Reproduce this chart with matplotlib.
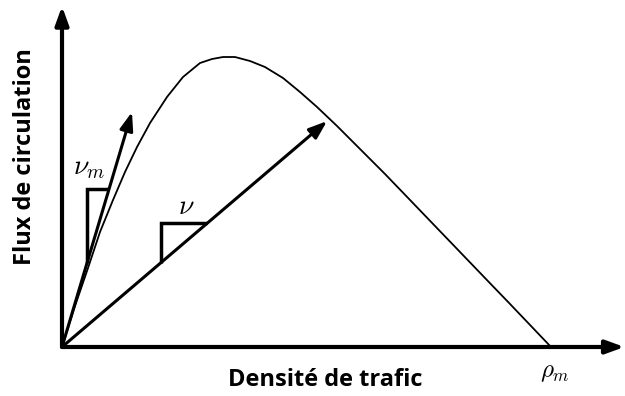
import matplotlib
matplotlib.use("Agg")
import matplotlib.pyplot as plt

# fundamental diagram (density 0..100 = rho_m, flow peak = 100)
density = [0, 2.66, 5.32, 7.77, 10.43, 12.88, 15.34, 18.0, 21.47, 24.74, 28.22,
           30.67, 32.92, 35.38, 38.45, 41.51, 45.19, 48.67, 52.15, 56.24, 60.94,
           66.05, 71.17, 76.28, 81.39, 86.50, 91.62, 100]
flow = [0, 14.14, 27.24, 39.66, 50.69, 60.34, 68.97, 77.24, 86.21, 93.10, 97.93,
        99.31, 100, 100, 98.62, 96.55, 92.76, 87.93, 82.76, 76.21, 68.28,
        59.66, 50.69, 41.72, 32.76, 23.79, 14.83, 0]

# arrow tips (free-flow speed v_m, and a congested speed v)
vm_tip = (14.31, 81.03)
v_tip = (54.2, 77.9)

# slope triangles: x of the vertical leg, y of the horizontal leg
vm_tri = (5.11, 54.48)
v_tri = (20.25, 42.76)

axis_tips = (115.0, 117.5)

plt.rcParams["mathtext.fontset"] = "cm"

fig = plt.figure(figsize=(6.25, 3.96), dpi=100)
ax = fig.add_axes([0, 0, 1, 1])
ax.set_xlim(-12.68, 115.13)
ax.set_ylim(-16.9, 119.66)
ax.axis("off")

arrow_kw = dict(arrowstyle="-|>,head_length=1.1,head_width=0.4", color="black",
                shrinkA=0, shrinkB=0)

# axes
ax.annotate("", xy=(axis_tips[0], 0), xytext=(0, 0),
            arrowprops=dict(arrow_kw, lw=3))
ax.annotate("", xy=(0, axis_tips[1]), xytext=(0, 0),
            arrowprops=dict(arrow_kw, lw=3))

# curve
ax.plot(density, flow, color="black", lw=1.3, solid_joinstyle="round")

# speed arrows
for tip in (vm_tip, v_tip):
    ax.annotate("", xy=tip, xytext=(0, 0), arrowprops=dict(arrow_kw, lw=2.2))

# slope triangles
for tip, (x0, y1) in ((vm_tip, vm_tri), (v_tip, v_tri)):
    s = tip[1] / tip[0]
    ax.plot([x0, x0, y1 / s], [s * x0, y1, y1], color="black", lw=2.5,
            solid_joinstyle="miter", solid_capstyle="butt")

ax.text(5.52, 62.07, r"$\nu_m$", fontsize=20, ha="center", va="center")
ax.text(25.36, 48.62, r"$\nu$", fontsize=20, ha="center", va="center")
ax.text(100.8, -8.6, r"$\rho_m$", fontsize=18, ha="center", va="center")

ax.text(53.78, -11.38, "Densité de trafic", fontsize=17, fontweight="bold",
        family="Open Sans", ha="center", va="center")
ax.text(-7.57, 65.5, "Flux de circulation", fontsize=17, fontweight="bold",
        family="Open Sans", ha="center", va="center", rotation=90)

fig.savefig("out.png", dpi=100)
